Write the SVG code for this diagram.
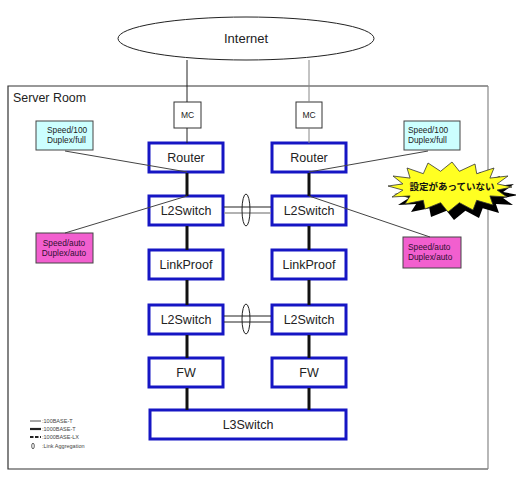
<svg xmlns="http://www.w3.org/2000/svg" width="516" height="492" viewBox="0 0 516 492">
<style>
.node{fill:#fff;stroke:#1616c4;stroke-width:3}
.lbl{font-family:"Liberation Sans",Arial,sans-serif;font-size:12.5px;fill:#222;text-anchor:middle}
.small{font-family:"Liberation Sans",Arial,sans-serif;font-size:8.3px;fill:#222}
.leg{font-family:"Liberation Sans",Arial,sans-serif;font-size:5.5px;fill:#444}
.thin{stroke:#222;stroke-width:1;fill:none}
.thinGray{stroke:#888;stroke-width:1;fill:none}
.thick{stroke:#111;stroke-width:3;fill:none}
.callout{stroke:#444;stroke-width:1;fill:none}
</style>
<rect width="516" height="492" fill="#fff"/>
<g id="server-room">
<path d="M488,86 L8,86 L8,469 L488,469" fill="none" stroke="#333" stroke-width="1.2"/>
<line x1="488" y1="86" x2="488" y2="469" stroke="#888" stroke-width="1.2"/>
<text x="13" y="102" font-family="Liberation Sans,Arial,sans-serif" font-size="12.4" fill="#222">Server Room</text>
</g>
<g id="internet">
<ellipse cx="246" cy="38.5" rx="128" ry="21.5" fill="#fff" stroke="#222" stroke-width="1"/>
<text x="246" y="43" class="lbl" style="font-size:13px">Internet</text>
</g>
<g id="mc-left"><rect x="174" y="102" width="27" height="26" fill="#fff" stroke="#333" stroke-width="1"/><text x="187.5" y="118" class="lbl" style="font-size:8.5px">MC</text></g>
<g id="mc-right"><rect x="296" y="102" width="26" height="26" fill="#fff" stroke="#333" stroke-width="1"/><text x="309" y="118" class="lbl" style="font-size:8.5px">MC</text></g>
<g id="router-left"><rect class="node" x="149" y="143" width="74" height="29"/><text class="lbl" x="186" y="162">Router</text></g>
<g id="router-right"><rect class="node" x="272" y="143" width="74" height="29"/><text class="lbl" x="309" y="162">Router</text></g>
<g id="l2switch-top-left"><rect class="node" x="149" y="196" width="74" height="29"/><text class="lbl" x="186" y="215">L2Switch</text></g>
<g id="l2switch-top-right"><rect class="node" x="272" y="196" width="74" height="29"/><text class="lbl" x="309" y="215">L2Switch</text></g>
<g id="linkproof-left"><rect class="node" x="149" y="250" width="74" height="29"/><text class="lbl" x="186" y="269">LinkProof</text></g>
<g id="linkproof-right"><rect class="node" x="272" y="250" width="74" height="29"/><text class="lbl" x="309" y="269">LinkProof</text></g>
<g id="l2switch-bottom-left"><rect class="node" x="149" y="305" width="74" height="29"/><text class="lbl" x="186" y="324">L2Switch</text></g>
<g id="l2switch-bottom-right"><rect class="node" x="272" y="305" width="74" height="29"/><text class="lbl" x="309" y="324">L2Switch</text></g>
<g id="fw-left"><rect class="node" x="149" y="358" width="74" height="29"/><text class="lbl" x="186" y="377">FW</text></g>
<g id="fw-right"><rect class="node" x="272" y="358" width="74" height="29"/><text class="lbl" x="309" y="377">FW</text></g>
<g id="l3switch"><rect class="node" x="150" y="410" width="196" height="29"/><text class="lbl" x="248" y="429">L3Switch</text></g>
<g id="note-speed100-left"><rect x="36" y="121" width="57" height="29" fill="#ccffff" stroke="#444" stroke-width="1"/><text class="small" x="47" y="133">Speed/100</text><text class="small" x="47" y="143">Duplex/full</text></g>
<g id="note-speed100-right"><rect x="404" y="121" width="56" height="29" fill="#ccffff" stroke="#444" stroke-width="1"/><text class="small" x="408" y="133">Speed/100</text><text class="small" x="408" y="143">Duplex/full</text></g>
<g id="note-speedauto-left"><rect x="36" y="233" width="57" height="30" fill="#f25fcf" stroke="#444" stroke-width="1"/><text class="small" x="64" y="246" style="text-anchor:middle;fill:#301030">Speed/auto</text><text class="small" x="64" y="256" style="text-anchor:middle;fill:#301030">Duplex/auto</text></g>
<g id="note-speedauto-right"><rect x="403" y="237" width="58" height="31" fill="#f25fcf" stroke="#444" stroke-width="1"/><text class="small" x="408" y="250" style="fill:#301030">Speed/auto</text><text class="small" x="408" y="260" style="fill:#301030">Duplex/auto</text></g>
<g id="connectors">
<line class="thin" x1="187" y1="60" x2="187" y2="102"/>
<line class="thin" x1="187" y1="128" x2="187" y2="143"/>
<line class="thinGray" x1="309" y1="60" x2="309" y2="102"/>
<line class="thinGray" x1="309" y1="128" x2="309" y2="143"/>
<line class="thick" x1="187" y1="173" x2="187" y2="196"/>
<line class="thick" x1="309" y1="173" x2="309" y2="196"/>
<line class="thick" x1="187" y1="226" x2="187" y2="250"/>
<line class="thick" x1="309" y1="226" x2="309" y2="250"/>
<line class="thick" x1="187" y1="280" x2="187" y2="305"/>
<line class="thick" x1="309" y1="280" x2="309" y2="305"/>
<line class="thick" x1="187" y1="335" x2="187" y2="358"/>
<line class="thick" x1="309" y1="335" x2="309" y2="358"/>
<line class="thick" x1="187" y1="388" x2="187" y2="410"/>
<line class="thick" x1="309" y1="388" x2="309" y2="410"/>
<line x1="224" y1="207" x2="271" y2="207" stroke="#222" stroke-width="1.2"/>
<line x1="224" y1="213" x2="271" y2="213" stroke="#999" stroke-width="1.6"/>
<ellipse cx="246" cy="210" rx="4" ry="16" fill="none" stroke="#222" stroke-width="1"/>
<line x1="224" y1="316" x2="271" y2="316" stroke="#222" stroke-width="1.2"/>
<line x1="224" y1="322" x2="271" y2="322" stroke="#222" stroke-width="1.2"/>
<ellipse cx="246" cy="319" rx="4" ry="15" fill="none" stroke="#222" stroke-width="1"/>
<line class="callout" x1="65" y1="151" x2="187" y2="172"/>
<line class="callout" x1="428" y1="151" x2="309" y2="172"/>
<line class="callout" x1="65" y1="233" x2="187" y2="196"/>
<line class="callout" x1="430" y1="237" x2="309" y2="196"/>
</g>
<g id="starburst">
<polygon transform="translate(6,8)" fill="#000" points="512,187 497.1,190.1 507,197 489.9,195.9 493,205 476.7,200.3 473,210 459.4,202.7 448,212 440.6,202.7 425,209 423.3,200.3 405,204 410.1,195.9 392,197 402.9,190.1 388,186 402.9,183.9 393,176 410.1,178.1 407,168 423.3,173.7 428,163 440.6,171.3 452,162 459.4,171.3 475,164 476.7,173.7 494,168 489.9,178.1 508,176 497.1,183.9"/>
<polygon fill="#ffff22" stroke="#333" stroke-width="0.8" points="512,187 497.1,190.1 507,197 489.9,195.9 493,205 476.7,200.3 473,210 459.4,202.7 448,212 440.6,202.7 425,209 423.3,200.3 405,204 410.1,195.9 392,197 402.9,190.1 388,186 402.9,183.9 393,176 410.1,178.1 407,168 423.3,173.7 428,163 440.6,171.3 452,162 459.4,171.3 475,164 476.7,173.7 494,168 489.9,178.1 508,176 497.1,183.9"/>
<text x="452" y="190" text-anchor="middle" font-family="Noto Sans CJK JP,sans-serif" font-size="9.5" font-weight="bold" fill="#111">設定があっていない</text>
</g>
<g id="legend">
<line x1="30" y1="421" x2="41" y2="421" stroke="#222" stroke-width="0.8"/>
<line x1="30" y1="429" x2="41" y2="429" stroke="#222" stroke-width="2.2"/>
<line x1="30" y1="437" x2="41" y2="437" stroke="#222" stroke-width="2.2" stroke-dasharray="3.5,1.5"/>
<ellipse cx="33" cy="446" rx="1.3" ry="2.8" fill="none" stroke="#222" stroke-width="0.7"/>
<text class="leg" x="42" y="423">:100BASE-T</text>
<text class="leg" x="42" y="431">:1000BASE-T</text>
<text class="leg" x="42" y="439">:1000BASE-LX</text>
<text class="leg" x="42" y="448">:Link Aggregation</text>
</g>
</svg>
